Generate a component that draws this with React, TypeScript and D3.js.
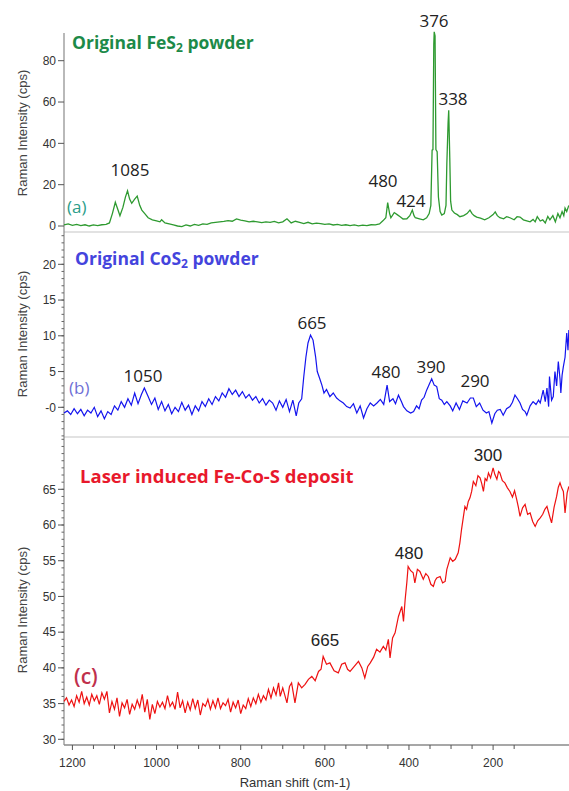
import React from "react";
import * as d3 from "d3";

// ---------- DATA ----------
// x axis ticks
const xMajorTicks = [1200, 1000, 800, 600, 400, 200];
const xMinorTicks = [1150, 1100, 1050, 950, 900, 850, 750, 700, 650, 550, 500, 450, 350, 300, 250, 150];

// Panel (a) Original FeS2 powder: [Raman shift, intensity]
const fes2Spectrum: [number, number][] = [
  [1220, 0.5], [1210, 1], [1200, 0.3], [1190, 0.8], [1180, 0.2], [1170, 0.6], [1160, 0], [1150, 0.5],
  [1140, 0.2], [1130, 0.6], [1120, 0.8], [1112, 1.5], [1105, 6], [1098, 11.5], [1092, 8], [1087, 5],
  [1080, 9], [1074, 14], [1069, 17], [1064, 13], [1059, 11], [1052, 13], [1046, 14.5], [1040, 10],
  [1035, 7.7], [1028, 6], [1020, 4], [1010, 3], [1000, 2.5], [992, 2], [988, 3], [980, 1.5], [970, 1],
  [960, 0.5], [950, 0], [940, -0.3], [930, 0.5], [920, 0], [910, 0.8], [900, 0.3], [890, 1], [880, 0.8],
  [870, 1.5], [860, 1.8], [850, 2], [840, 2.2], [830, 2.6], [820, 2.3], [810, 3.4], [800, 2.8], [790, 2.5],
  [780, 2], [770, 2.3], [760, 2], [750, 1.6], [740, 2], [730, 1.8], [720, 2.2], [710, 1.5], [700, 2],
  [690, 3.5], [680, 1.5], [670, 2.3], [660, 1.8], [650, 1.2], [640, 1.8], [630, 1], [620, 1.4], [610, 1.2],
  [600, 0.8], [590, 1], [580, 0.5], [570, 0.8], [560, 0.3], [550, 0.6], [540, 0.2], [530, 0.5], [520, 0.1],
  [510, 0.4], [500, 0.2], [490, 0.6], [480, 0.5], [470, 1], [462, 2.5], [455, 4], [450.6, 11.3], [446, 6],
  [443, 4], [435, 6.5], [428, 5.5], [421, 4.5], [414, 3.4], [405, 3.5], [398, 5], [392, 7.7], [388, 5],
  [385, 4], [375, 3.5], [366, 3], [358, 4], [352, 6], [348, 10], [345, 36.7], [343, 37], [341, 88],
  [340, 94], [338, 92], [336, 37], [333, 36], [330, 14], [326, 7], [322, 5.3], [316, 6], [312, 10],
  [310, 30], [307, 50], [305.5, 56], [303, 33], [301, 12], [298, 7.7], [292, 6.3], [285, 5.5], [279, 4.5],
  [270, 5], [262, 6], [255, 7.7], [250, 6], [245, 5], [239, 4.3], [230, 3.8], [220, 3], [210, 4],
  [200, 5.5], [195, 6.8], [190, 5], [184, 4], [175, 3.5], [168, 4.5], [160, 4], [150, 3], [143, 4.5],
  [136, 4.3], [128, 3], [120, 2.5], [112, 2], [105, 3.2], [100, 2], [95, 4.5], [88, 2.4], [82, 3],
  [76, 1.5], [70, 4.6], [65, 3], [58, 5], [52, 2], [46, 6], [41, 4], [36, 7], [32, 5], [29, 8.7],
  [25, 7], [20, 10],
];

// Panel (b) Original CoS2 powder
const cos2Spectrum: [number, number][] = [
  [1220, -0.8], [1212, -0.5], [1204, -1], [1196, -0.2], [1188, -0.9], [1180, -0.3], [1172, -1.2],
  [1164, -0.4], [1156, -0.8], [1148, 0], [1140, -1.3], [1132, -0.5], [1124, -1.6], [1116, -0.6],
  [1108, -1], [1100, 0.2], [1092, -0.4], [1084, 0.8], [1076, 0], [1068, 1.2], [1060, 0.3], [1052, 2],
  [1044, 0.5], [1036, 1.8], [1029, 2.7], [1020, 1.5], [1012, 0.4], [1004, 1.3], [996, -0.3], [988, 0.8],
  [980, -0.5], [972, 0.4], [964, -0.9], [956, 0], [948, -0.6], [940, 0.7], [932, -0.4], [924, 0.3],
  [916, -1], [908, 0.2], [900, -0.5], [892, 0.8], [884, 0.1], [876, 1.2], [868, 0.4], [860, 1.5],
  [852, 0.9], [844, 2], [836, 1.4], [828, 2.6], [820, 1.8], [812, 2.4], [804, 1.5], [796, 2.2],
  [788, 1.3], [780, 1.8], [772, 1], [764, 1.5], [756, 0.6], [748, 1.2], [740, 0.3], [732, 1],
  [724, 0.6], [716, -0.4], [708, 0.9], [700, 0], [692, 1.1], [684, -0.6], [676, 1], [668, -1.2],
  [662, 0.6], [655, 1.2], [650, 4.3], [645, 7], [640, 9], [634, 10.1], [628, 9.4], [622, 7.1],
  [618, 5], [612, 4], [607, 3.1], [602, 2], [596, 2.5], [588, 1.5], [580, 2], [572, 1.3], [564, 0.9],
  [556, 0.6], [548, 0.1], [540, -0.1], [532, 0.5], [524, -0.8], [516, 0.2], [508, -1.5], [500, -0.2],
  [492, 0.6], [484, 0.2], [476, 0.6], [468, 1.1], [460, 0.4], [452, 3.1], [446, 0.8], [438, 1.2],
  [432, 0.5], [425, 1.7], [418, 0.8], [413, 0.1], [405, -0.5], [396, -0.8], [389, -0.6], [382, 0.2],
  [376, -0.2], [370, 1], [364, 1.4], [358, 2.4], [352, 3.2], [346, 4], [340, 3.1], [334, 2.9],
  [328, 1.2], [322, 1], [316, 0.4], [310, 0.8], [302, 0.2], [296, -0.5], [288, 0.6], [280, -0.3],
  [272, 0.9], [262, 0.6], [254, 1.3], [247, 1.3], [240, 0.1], [232, 0.6], [224, -0.4], [216, -0.8],
  [210, -0.6], [203, -2.2], [196, -0.9], [190, -0.4], [183, -0.3], [176, -1.1], [168, -0.2], [160, 0.1],
  [154, 0.7], [148, 1.7], [142, 1.2], [136, 0.6], [130, -0.3], [124, -0.6], [120, -1.1], [112, 0.2],
  [105, 0.8], [98, 0.4], [92, 1], [88, 0.6], [81, 2.4], [76, 0.8], [72, 2.7], [68, 0.1], [66, 4.3],
  [61, 1], [57, 1.5], [53, 5], [49, 3], [45, 6.4], [41, 4], [39, 2], [36, 4.5], [33, 5.7], [29, 7],
  [25, 10.4], [22, 8], [20, 10.8],
];

// Panel (c) Laser induced Fe-Co-S deposit
const depositSpectrum: [number, number][] = [
  [1220, 35.3], [1214, 35.8], [1208, 34.8], [1202, 35.5], [1196, 34.6], [1190, 36.1], [1184, 35.2],
  [1178, 36.7], [1172, 35], [1166, 35.9], [1160, 34.8], [1154, 36.3], [1148, 35.4], [1142, 36.1],
  [1136, 34.9], [1130, 36.5], [1124, 35.6], [1118, 36.7], [1112, 33.7], [1106, 35.3], [1100, 34.2],
  [1094, 35.8], [1088, 33.2], [1082, 35.1], [1076, 34.4], [1070, 35.6], [1064, 33.5], [1058, 34.9],
  [1052, 34.2], [1046, 35.5], [1040, 34.5], [1034, 36.3], [1028, 33.8], [1022, 35.6], [1016, 32.8],
  [1010, 34.9], [1004, 33.6], [998, 35.3], [992, 34.5], [986, 35.2], [980, 34.3], [974, 36.1],
  [968, 34.6], [962, 35.2], [956, 34.2], [950, 36.6], [944, 34.4], [938, 35.4], [932, 33.7],
  [926, 35.2], [920, 34.1], [914, 35.7], [908, 34.3], [902, 35.5], [896, 33.4], [890, 35], [884, 34.6],
  [878, 35.6], [872, 34.2], [866, 35.4], [860, 34.4], [854, 35.8], [848, 34.3], [842, 35.1], [836, 34.7],
  [830, 35.6], [824, 33.8], [818, 35.2], [812, 34.4], [806, 35.5], [800, 33.6], [794, 34.8], [788, 34.3],
  [782, 35.7], [776, 34.6], [770, 35.8], [764, 35], [758, 36.3], [752, 35.2], [746, 36.1], [740, 35.5],
  [734, 37], [728, 35.8], [722, 37.2], [716, 36.2], [710, 37.9], [706, 36], [700, 37.2], [690, 35.1],
  [684, 37.4], [679, 37.9], [671, 35.1], [663, 37.9], [655, 37.2], [647, 37.7], [639, 38.4], [631, 38.8],
  [623, 38.2], [615, 39.5], [609, 39.8], [604, 41.6], [596, 40.5], [588, 40.7], [578, 39.6], [568, 39.3],
  [560, 40.5], [552, 40.7], [546, 39.8], [540, 39.5], [530, 40.2], [520, 40.9], [512, 40], [505, 38.6],
  [498, 40.2], [492, 40.7], [484, 41.5], [477, 42.6], [469, 42.2], [461, 43], [455, 42.5], [449, 44],
  [445, 41.4], [439, 44.2], [433, 44.9], [425, 47.2], [417, 48.6], [413, 46.5], [409, 49.6], [405, 52],
  [402, 54.2], [396, 53.6], [390, 53.3], [386, 51.9], [380, 53.8], [374, 53.5], [366, 52.4], [360, 53.2],
  [354, 52.8], [348, 51.7], [342, 51.4], [338, 52.2], [334, 52.6], [326, 52.8], [320, 51.9], [314, 52.1],
  [310, 53.8], [306, 54.6], [302, 55.4], [296, 54.9], [290, 55.2], [283, 56.1], [279, 57.5], [275, 59.4],
  [271, 61], [267, 62.6], [263, 62.2], [259, 63.3], [255, 63.8], [251, 64.7], [247, 66.1], [241, 65.5],
  [236, 66.9], [231, 66.6], [227, 65.8], [223, 64.7], [219, 66.5], [215, 66.2], [211, 67.3], [206, 66.6],
  [200, 68], [196, 67.1], [191, 66.4], [187, 67.5], [184, 67.3], [178, 66.2], [172, 65.9], [166, 65.2],
  [160, 64.7], [154, 63.9], [149, 64.8], [144, 63.6], [140, 62.5], [136, 61.2], [130, 62.4], [124, 62.9],
  [118, 61.5], [112, 61.7], [106, 60.5], [100, 59.8], [94, 60.6], [88, 61], [82, 61.5], [77, 62.2],
  [72, 62.6], [66, 61.3], [61, 60.3], [55, 62.5], [49, 64], [45, 65.3], [41, 65.9], [37, 65.2],
  [33, 64.7], [29, 61.7], [24, 64.5], [20, 65.4],
];

// y ticks per panel
const aTicks = [0, 20, 40, 60, 80];
const bTicks = [0, 5, 10, 15, 20];
const cTicks = [30, 35, 40, 45, 50, 55, 60, 65];

// peak annotations: [label, anchor Raman shift, anchor intensity]
const aPeakLabels: [string, number, number][] = [
  ["1085", 1063, 24.2], ["480", 461.7, 18.8], ["424", 395.2, 9.2], ["376", 340.5, 96.1], ["338", 295.3, 58.5],
];
const bPeakLabels: [string, number, number][] = [
  ["1050", 1032.2, 3.5], ["665", 630.5, 11], ["480", 454.6, 4.1], ["390", 347.6, 4.8], ["290", 243, 2.8],
];
const cPeakLabels: [string, number, number][] = [
  ["665", 599.6, 43], ["480", 400, 55.2], ["300", 212, 69],
];

export default function App() {
  const W = 569, H = 791;
  const x = d3.scaleLinear().domain([1220, 19.6]).range([64, 569]);
  const ya = d3.scaleLinear().domain([0, 80]).range([226, 60.7]);
  const yb = d3.scaleLinear().domain([0, 20]).range([407.3, 264.3]);
  const yc = d3.scaleLinear().domain([30, 65]).range([739.3, 489.3]);

  const lineA = d3.line<[number, number]>().x(d => x(d[0])).y(d => ya(d[1]));
  const lineB = d3.line<[number, number]>().x(d => x(d[0])).y(d => yb(d[1]));
  const lineC = d3.line<[number, number]>().x(d => x(d[0])).y(d => yc(d[1]));

  const axisColor = "#8a8a8a";
  const tickFont = "'Liberation Sans', Arial, sans-serif";
  const labFont = "'Open Sans', 'Liberation Sans', sans-serif";
  const x0 = 64;

  const yAxis = (scale: d3.ScaleLinear<number, number>, ticks: number[], top: number, bottom: number, fmt: (v: number) => string, minor: boolean) => {
    const [d0, d1] = [scale.invert(bottom), scale.invert(top)];
    const minors: number[] = [];
    if (minor) {
      for (let v = Math.ceil(d0); v <= Math.floor(d1); v++) minors.push(v);
    }
    return (
      <g>
        <line x1={x0} x2={x0} y1={top} y2={bottom} stroke={axisColor} strokeWidth={1.2} />
        {minors.map(v => (
          <line key={"m" + v} x1={x0 - 2.5} x2={x0} y1={scale(v)} y2={scale(v)} stroke="#666" strokeWidth={1} />
        ))}
        {ticks.map(v => (
          <g key={v}>
            <line x1={x0 - 6} x2={x0} y1={scale(v)} y2={scale(v)} stroke="#555" strokeWidth={1} />
            <text x={x0 - 8} y={scale(v)} dy="0.35em" textAnchor="end" fontFamily={tickFont} fontSize={12} fill="#333">{fmt(v)}</text>
          </g>
        ))}
      </g>
    );
  };

  const yTitle = (cy: number) => (
    <text transform={`translate(22,${cy}) rotate(-90)`} textAnchor="middle" dy="0.35em" fontFamily={tickFont} fontSize={13} fill="#444">Raman Intensity (cps)</text>
  );

  const annotate = (labels: [string, number, number][], yScale: d3.ScaleLinear<number, number>, font: string, size: number) =>
    labels.map(([label, w, v]) => (
      <text key={label + w} x={x(w)} y={yScale(v)} textAnchor="middle" fontFamily={font} fontSize={size} fill="#222">{label}</text>
    ));

  return (
    <svg width={W} height={H} style={{ position: "absolute", left: 0, top: 0, background: "#fff" }}>
      <rect width={W} height={H} fill="#fff" />
      {/* separators */}
      <line x1={x0} x2={W} y1={232} y2={232} stroke="#e2e2e2" strokeWidth={2} />
      <line x1={x0} x2={W} y1={437} y2={437} stroke="#e2e2e2" strokeWidth={2} />

      {/* Panel a */}
      {yAxis(ya, aTicks, 33, 232, v => String(v), false)}
      {yTitle(133)}
      <path d={lineA(fes2Spectrum) || ""} fill="none" stroke="#2e9a30" strokeWidth={1.3} />
      <text x={72} y={49} fontFamily={labFont} fontWeight="bold" fontSize={17.5} fill="#1c8a48">
        Original FeS<tspan fontSize={12} dy={3}>2</tspan><tspan dy={-3}> powder</tspan>
      </text>
      <text x={67} y={213} fontFamily={labFont} fontSize={17} fill="#2a9d8a">(a)</text>
      {annotate(aPeakLabels, ya, labFont, 17)}

      {/* Panel b */}
      {yAxis(yb, bTicks, 232, 437, v => (v === 0 ? "-0" : String(v)), true)}
      {yTitle(334)}
      <path d={lineB(cos2Spectrum) || ""} fill="none" stroke="#1414ee" strokeWidth={1.2} />
      <text x={75} y={265} fontFamily={labFont} fontWeight="bold" fontSize={17.5} fill="#4444dd">
        Original CoS<tspan fontSize={12} dy={3}>2</tspan><tspan dy={-3}> powder</tspan>
      </text>
      <text x={69} y={394} fontFamily={labFont} fontSize={17} fill="#6f6fd6">(b)</text>
      {annotate(bPeakLabels, yb, labFont, 17)}

      {/* Panel c */}
      {yAxis(yc, cTicks, 437, 745, v => String(v), true)}
      {yTitle(610)}
      <path d={lineC(depositSpectrum) || ""} fill="none" stroke="#ee1111" strokeWidth={1.2} />
      <text x={80} y={483} fontFamily={labFont} fontWeight="bold" fontSize={18.5} fill="#e8192c">Laser induced Fe-Co-S deposit</text>
      <text x={74} y={684} fontFamily={labFont} fontWeight="600" fontSize={21} fill="#c0304c">(c)</text>
      {annotate(cPeakLabels, yc, tickFont, 17)}

      {/* X axis */}
      <line x1={x0} x2={W} y1={745} y2={745} stroke={axisColor} strokeWidth={1.5} />
      {xMinorTicks.map(v => (
        <line key={"xm" + v} x1={x(v)} x2={x(v)} y1={745} y2={749} stroke="#555" strokeWidth={1} />
      ))}
      {xMajorTicks.map(v => (
        <g key={"xM" + v}>
          <line x1={x(v)} x2={x(v)} y1={745} y2={750} stroke="#555" strokeWidth={1} />
          <text x={x(v)} y={767} textAnchor="middle" fontFamily={tickFont} fontSize={12} fill="#333">{v}</text>
        </g>
      ))}
      <text x={295} y={787} textAnchor="middle" fontFamily={tickFont} fontSize={13} fill="#333">Raman shift (cm-1)</text>
    </svg>
  );
}
